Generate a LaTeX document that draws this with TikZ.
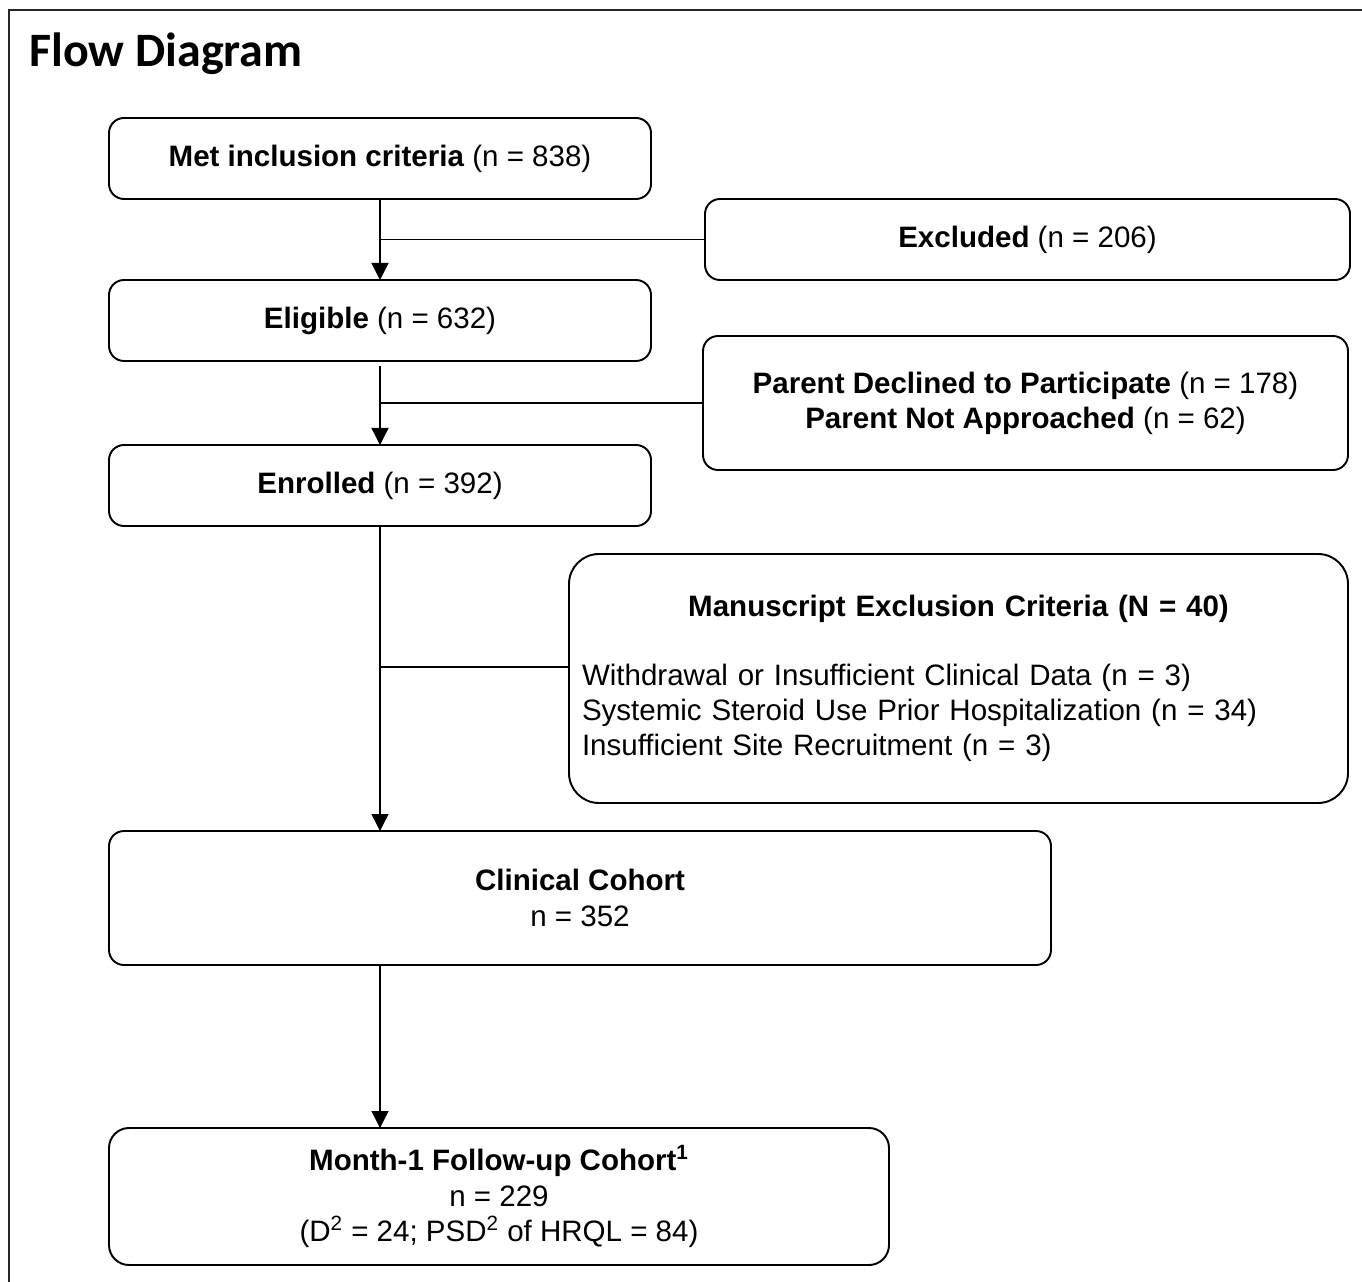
\documentclass[tikz,border=0pt]{standalone}
\usepackage{fontspec}
\setmainfont{Liberation Sans}
\newfontfamily\titlefont{Carlito}
\usetikzlibrary{arrows.meta, positioning}

\begin{document}
\begin{tikzpicture}[
    node distance=1.62cm and 1.08cm,
    box/.style={rectangle, draw=black, line width=1.1pt, rounded corners=0.3cm, align=center, inner sep=0pt, outer sep=0pt, font=\fontsize{16.8}{20}\selectfont},
    narrowbox/.style={box, minimum width=10.84cm, minimum height=1.62cm},
    sidebox/.style={box, minimum width=12.9cm},
    line/.style={line width=0.8pt},
    arrow/.style={line width=0.8pt, -{Triangle[length=0.34cm, width=0.34cm]}},
]

\useasboundingbox (0,0) rectangle (27.24,-25.64);
% Frame
\draw[line width=1.1pt, black!85] (0.18,-25.8) -- (0.18,-0.2) -- (27.4,-0.2);

% Title
\node[anchor=base west, inner sep=0pt, font=\titlefont\bfseries\fontsize{27.3}{32}\selectfont] (title) at (0.58,-1.34) {Flow Diagram};

% Nodes
\node[narrowbox] (met) at (7.6,-3.17) {\textbf{Met inclusion criteria} (n = 838)};
\node[narrowbox, below=of met] (eligible) {\textbf{Eligible} (n = 632)};
\node[narrowbox, below=1.68cm of eligible] (enrolled) {\textbf{Enrolled} (n = 392)};
\node[sidebox, minimum height=1.62cm, right=of met.south east, anchor=north west] (excluded) {\textbf{Excluded} (n = 206)};
\node[sidebox, minimum height=2.68cm, below right=1.12cm and 1.04cm of eligible.north east, anchor=north west] (parent) {\textbf{Parent Declined to Participate} (n = 178)\\\textbf{Parent Not Approached} (n = 62)};
\node[box, rounded corners=0.6cm, minimum height=4.98cm, text width=15.06cm, inner xsep=0.26cm, align=left, below=1.68cm of parent.south east, anchor=north east] (manuscript) {{\centering\textbf{Manuscript Exclusion Criteria (N = 40)}\par}\vspace{0.68cm}Withdrawal or Insufficient Clinical Data (n = 3)\\Systemic Steroid Use Prior Hospitalization (n = 34)\\Insufficient Site Recruitment (n = 3)};
\node[box, minimum width=18.84cm, minimum height=2.68cm, below=6.1cm of enrolled.south west, anchor=north west] (clinical) {\textbf{Clinical Cohort}\\n = 352};
\node[box, rounded corners=0.4cm, minimum width=15.6cm, minimum height=2.74cm, below=3.26cm of clinical.south west, anchor=north west] (month) {\textbf{Month-1 Follow-up Cohort\textsuperscript{1}}\\n = 229\\(D\textsuperscript{2} = 24; PSD\textsuperscript{2} of HRQL = 84)};
\coordinate (crit) at ([yshift=0.23cm]manuscript.west);

% Arrows
\draw[arrow] (met) -- (eligible);
\draw[line] (met.south |- excluded.west) -- (excluded.west);
\draw[arrow, shorten <=0.1cm] (eligible) -- (enrolled);
\draw[line] (eligible.south |- parent.west) -- (parent.west);
\draw[arrow] (enrolled) -- (enrolled |- clinical.north);
\draw[line] (enrolled.south |- crit) -- (crit);
\draw[arrow] (enrolled.south |- clinical.south) -- (enrolled.south |- month.north);

\end{tikzpicture}
\end{document}
